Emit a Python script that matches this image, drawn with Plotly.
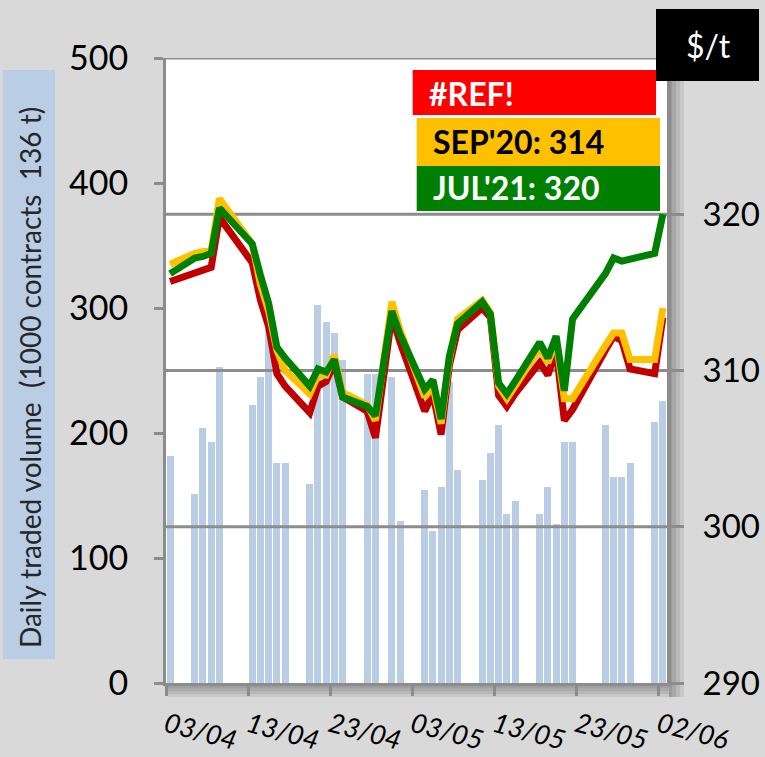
import plotly.graph_objects as go
import pandas as pd

# ---------------- data ----------------
dates = ["2020-04-03", "2020-04-06", "2020-04-07", "2020-04-08", "2020-04-09",
         "2020-04-13", "2020-04-14", "2020-04-15", "2020-04-16", "2020-04-17",
         "2020-04-20", "2020-04-21", "2020-04-22", "2020-04-23", "2020-04-24",
         "2020-04-27", "2020-04-28", "2020-04-30", "2020-05-01",
         "2020-05-04", "2020-05-05", "2020-05-06", "2020-05-07", "2020-05-08",
         "2020-05-11", "2020-05-12", "2020-05-13", "2020-05-14", "2020-05-15",
         "2020-05-18", "2020-05-19", "2020-05-20", "2020-05-21", "2020-05-22",
         "2020-05-26", "2020-05-27", "2020-05-28", "2020-05-29",
         "2020-06-01", "2020-06-02"]

volume = [181.5, 151.6, 203.7, 192.7, 252.8,
          222.6, 244.6, 285.9, 176.1, 176.1,
          159.6, 302.5, 288.6, 280.3, 258.4,
          247.0, 247.2, 244.6, 129.4,
          154.2, 121.4, 156.9, 240.5, 170.5,
          162.3, 184.1, 206.3, 135.0, 146.0,
          135.0, 156.9, 127.0, 192.7, 192.7,
          206.3, 165.2, 165.2, 176.1,
          209.0, 225.6]

ref_price = [315.7, 316.3, 316.4, 316.6, 319.8,
             316.9, 314.5, 312.8, 309.8, 309.0,
             307.3, 309.0, 309.3, 310.5, 308.3,
             307.4, 305.7, 313.5, 311.8,
             307.4, 308.5, 305.9, 310.3, 312.6,
             314.0, 313.4, 308.4, 307.7, 308.5,
             310.5, 309.7, 311.3, 306.8, 307.5,
             311.3, 312.2, 311.9, 310.1,
             309.8, 313.4]

sep20 = [316.8, 317.5, 317.6, 317.7, 321.0,
         318.1, 315.5, 313.8, 311.3, 310.0,
         308.5, 309.7, 309.7, 311.0, 308.6,
         307.8, 306.8, 314.4, 312.6,
         308.3, 309.0, 306.6, 310.7, 313.3,
         314.5, 313.7, 309.0, 308.2, 309.0,
         311.4, 310.5, 311.9, 308.2, 308.2,
         311.6, 312.4, 312.4, 310.7,
         310.7, 314.0]

jul21 = [316.2, 317.2, 317.3, 317.5, 320.4,
         318.1, 316.1, 314.3, 311.5, 310.8,
         309.0, 310.1, 309.9, 310.7, 308.3,
         307.7, 307.1, 313.8, 312.3,
         308.8, 309.4, 306.9, 310.9, 313.0,
         314.4, 313.6, 309.2, 308.5, 309.3,
         311.8, 310.8, 312.2, 308.7, 313.3,
         316.2, 317.2, 317.0, 317.1,
         317.5, 320.0]

series_names = ["#REF!", "SEP'20", "JUL'21"]
tick_dates = ["2020-04-03", "2020-04-13", "2020-04-23", "2020-05-03",
              "2020-05-13", "2020-05-23", "2020-06-02"]
tick_labels = ["03/04", "13/04", "23/04", "03/05", "13/05", "23/05", "02/06"]
x_range = ["2020-04-03", "2020-06-03"]
vol_ticks = [0, 100, 200, 300, 400, 500]
price_ticks = [290, 300, 310, 320]
grid_levels = [300, 310, 320, 330]

# ---------------- geometry / style ----------------
W, H = 765, 757
L, R, T, B = 166, 98, 58, 74
FONT = "Lato"
AXIS_GREY = "#8C8C8C"
BG = "#D9D9D9"


def px(x):
    return (x - L) / (W - L - R)


def py(y):
    return (H - B - y) / (H - T - B)


x_mid = pd.to_datetime(dates) + pd.Timedelta(hours=12)
day_ms = 86400000

fig = go.Figure()

fig.add_trace(go.Bar(x=x_mid, y=volume, width=0.86 * day_ms,
                     marker=dict(color="#B9CDE5", line=dict(width=0)),
                     yaxis="y", showlegend=False, hoverinfo="skip"))

# gridlines of the price axis, drawn above the bars but below the lines
gx, gy = [], []
for g in grid_levels:
    gx += [x_range[0], x_range[1], None]
    gy += [g, g, None]
fig.add_trace(go.Scatter(x=gx, y=gy, mode="lines", yaxis="y2",
                         line=dict(color=AXIS_GREY, width=3),
                         showlegend=False, hoverinfo="skip", cliponaxis=False))

line_colors = ["#C00000", "#FFC000", "#008000"]
for name, vals, col in zip(series_names, [ref_price, sep20, jul21], line_colors):
    fig.add_trace(go.Scatter(x=x_mid, y=vals, mode="lines", name=name, yaxis="y2",
                             line=dict(color=col, width=7, shape="linear"),
                             showlegend=False))

shapes = []
# axis shadows
for (a, b, c) in [(685, 688, "#A0A0A0"), (688, 691, "#AAAAAA"),
                  (691, 694, "#B8B8B8"), (694, 697, "#C8C8C8")]:
    shapes.append(dict(type="rect", xref="paper", yref="paper", layer="below",
                       x0=px(168), x1=px(683), y0=py(b), y1=py(a),
                       fillcolor=c, line=dict(width=0)))
for (a, b, c) in [(669, 672, "#9A9A9A"), (672, 676, "#A8A8A8"),
                  (676, 680, "#B8B8B8"), (680, 684, "#C8C8C8")]:
    shapes.append(dict(type="rect", xref="paper", yref="paper", layer="below",
                       x0=px(a), x1=px(b), y0=py(697), y1=py(60),
                       fillcolor=c, line=dict(width=0)))
# y title box
shapes.append(dict(type="rect", xref="paper", yref="paper",
                   x0=px(3), x1=px(55), y0=py(659), y1=py(70),
                   fillcolor="#B9CDE5", line=dict(width=0)))
# unit box
shapes.append(dict(type="rect", xref="paper", yref="paper",
                   x0=px(656), x1=px(759), y0=py(81), y1=py(9),
                   fillcolor="black", line=dict(width=0)))
# legend boxes
legend_boxes = [(412.7, 656, 70, 115, "#FF0000"),
                (416.7, 660, 118, 166, "#FFC000"),
                (416.7, 660, 166, 211, "#008000")]
for (x0, x1, y0, y1, c) in legend_boxes:
    shapes.append(dict(type="rect", xref="paper", yref="paper",
                       x0=px(x0), x1=px(x1), y0=py(y1), y1=py(y0),
                       fillcolor=c, line=dict(width=0)))

annotations = []
annotations.append(dict(xref="paper", yref="paper", x=px(30), y=py(378),
                        xanchor="center", yanchor="middle",
                        text="Daily traded volume\u00a0\u00a0(1000 contracts\u00a0\u00a0136 t)",
                        textangle=-90, showarrow=False,
                        font=dict(family=FONT, size=28, color="#262626")))
annotations.append(dict(xref="paper", yref="paper", x=px(708), y=py(45),
                        xanchor="center", yanchor="middle",
                        text="$/t", showarrow=False,
                        font=dict(family=FONT, size=32, color="white")))
legend_texts = [
    (426.7, 93, "<b>#REF!</b>", "white"),
    (430.7, 142, f"<b>{series_names[1]}: {sep20[-1]:.0f}</b>", "black"),
    (430.7, 188, f"<b>{series_names[2]}: {jul21[-1]:.0f}</b>", "white"),
]
for (x, y, t, c) in legend_texts:
    annotations.append(dict(xref="paper", yref="paper", x=px(x), y=py(y),
                            xanchor="left", yanchor="middle", text=t, showarrow=False,
                            font=dict(family=FONT, size=32, color=c)))

fig.update_layout(
    width=W, height=H,
    margin=dict(l=L, r=R, t=T, b=B, pad=0, autoexpand=False),
    paper_bgcolor=BG, plot_bgcolor="white",
    bargap=0,
    showlegend=False,
    xaxis=dict(type="date", range=x_range, automargin=False,
               tickmode="array", tickvals=tick_dates, ticktext=tick_labels,
               tickangle=15, ticks="outside", ticklen=10, tickwidth=3,
               tickcolor=AXIS_GREY, showline=True, linecolor=AXIS_GREY, linewidth=3,
               showgrid=False, zeroline=False, ticklabelstandoff=3,
               tickfont=dict(family=FONT, size=27, color="black", style="italic")),
    yaxis=dict(range=[0, 500], tickmode="array", tickvals=vol_ticks, automargin=False,
               ticks="outside", ticklen=9, tickwidth=3, tickcolor=AXIS_GREY,
               showline=True, linecolor=AXIS_GREY, linewidth=3,
               showgrid=False, zeroline=False, ticklabelstandoff=19,
               tickfont=dict(family=FONT, size=34, color="black")),
    yaxis2=dict(range=[290, 330], overlaying="y", side="right", automargin=False,
                tickmode="array", tickvals=price_ticks,
                ticks="outside", ticklen=13, tickwidth=3, tickcolor=AXIS_GREY,
                showline=True, linecolor=AXIS_GREY, linewidth=4,
                showgrid=False, zeroline=False, ticklabelstandoff=12,
                tickfont=dict(family=FONT, size=33, color="black")),
    shapes=shapes,
    annotations=annotations,
)

fig.write_html("out.html", config={"displayModeBar": False},
               post_script="document.body.style.margin='0';document.body.style.overflow='hidden';")
